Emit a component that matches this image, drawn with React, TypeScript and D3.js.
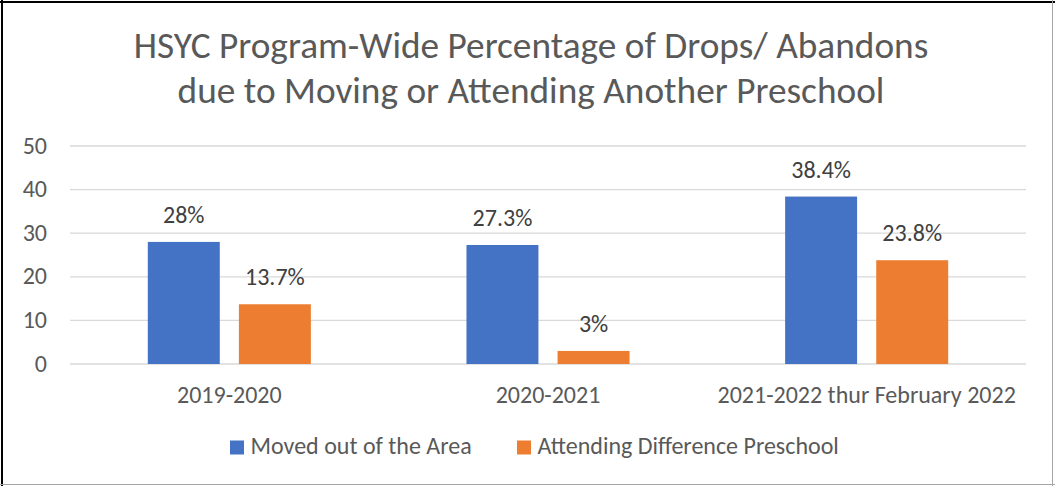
import React from "react";
import * as d3 from "d3";

const categories = ["2019-2020", "2020-2021", "2021-2022 thur February 2022"];
const seriesNames = ["Moved out of the Area", "Attending Difference Preschool"];
const movedValues = [28, 27.3, 38.4];
const attendingValues = [13.7, 3, 23.8];
const movedLabels = ["28%", "27.3%", "38.4%"];
const attendingLabels = ["13.7%", "3%", "23.8%"];
const yTicks = [0, 10, 20, 30, 40, 50];
const titleLines = [
  "HSYC Program-Wide Percentage of Drops/ Abandons",
  "due to Moving or Attending Another Preschool",
];
const colors = ["#4472C4", "#ED7D31"];

const W = 1055;
const H = 486;
const FONT = "Carlito, Calibri, 'Open Sans', sans-serif";
const LABEL_SIZE = 24;

export default function App() {
  const x = d3.scaleBand<string>().domain(categories).range([70, 1026]).padding(0);
  const inner = d3
    .scaleBand<string>()
    .domain(seriesNames)
    .range([0, x.bandwidth()])
    .paddingInner(0.21)
    .paddingOuter(0.854);
  const y = d3.scaleLinear().domain([0, 50]).range([364, 146]);
  const series = [
    { name: seriesNames[0], values: movedValues, labels: movedLabels, color: colors[0] },
    { name: seriesNames[1], values: attendingValues, labels: attendingLabels, color: colors[1] },
  ];

  return (
    <div style={{ position: "absolute", left: 0, top: 0 }}>
      <svg width={W} height={H} style={{ display: "block", fontFamily: FONT }}>
        <rect x={0} y={0} width={W} height={H} fill="#fff" />
        <line x1={2} y1={0} x2={2} y2={H} stroke="#000" strokeWidth={2} />
        <line x1={0} y1={2} x2={W} y2={2} stroke="#000" strokeWidth={2} />
        <line x1={1052.5} y1={0} x2={1052.5} y2={H} stroke="#a6a6a6" strokeWidth={1} />
        <line x1={0} y1={484.5} x2={W} y2={484.5} stroke="#a6a6a6" strokeWidth={1} />
        {titleLines.map((t, i) => (
          <text key={i} x={531} y={58 + i * 45} textAnchor="middle" fontSize={37.3} fill="#595959">
            {t}
          </text>
        ))}
        {yTicks.map((t) => (
          <g key={t}>
            <line x1={70} x2={1026} y1={y(t)} y2={y(t)} stroke="#d9d9d9" strokeWidth={1.3} />
            <text x={47} y={y(t) + 7.5} textAnchor="end" fontSize={LABEL_SIZE} fill="#595959">
              {t}
            </text>
          </g>
        ))}
        {series.map((s) =>
          categories.map((c, i) => {
            const bx = (x(c) ?? 0) + (inner(s.name) ?? 0);
            const by = y(s.values[i]);
            return (
              <g key={s.name + c}>
                <rect x={bx} y={by} width={inner.bandwidth()} height={y(0) - by} fill={s.color} />
                <text
                  x={bx + inner.bandwidth() / 2}
                  y={by - 19}
                  textAnchor="middle"
                  fontSize={LABEL_SIZE}
                  fill="#404040"
                >
                  {s.labels[i]}
                </text>
              </g>
            );
          })
        )}
        {categories.map((c) => (
          <text
            key={c}
            x={(x(c) ?? 0) + x.bandwidth() / 2}
            y={403}
            textAnchor="middle"
            fontSize={LABEL_SIZE}
            fill="#595959"
          >
            {c}
          </text>
        ))}
        {(() => {
          const legendX = [230, 517];
          return series.map((s, i) => (
            <g key={s.name}>
              <rect x={legendX[i]} y={440.5} width={14} height={14} fill={s.color} />
              <text x={legendX[i] + 20.5} y={454} fontSize={LABEL_SIZE} fill="#595959">
                {s.name}
              </text>
            </g>
          ));
        })()}
      </svg>
    </div>
  );
}
